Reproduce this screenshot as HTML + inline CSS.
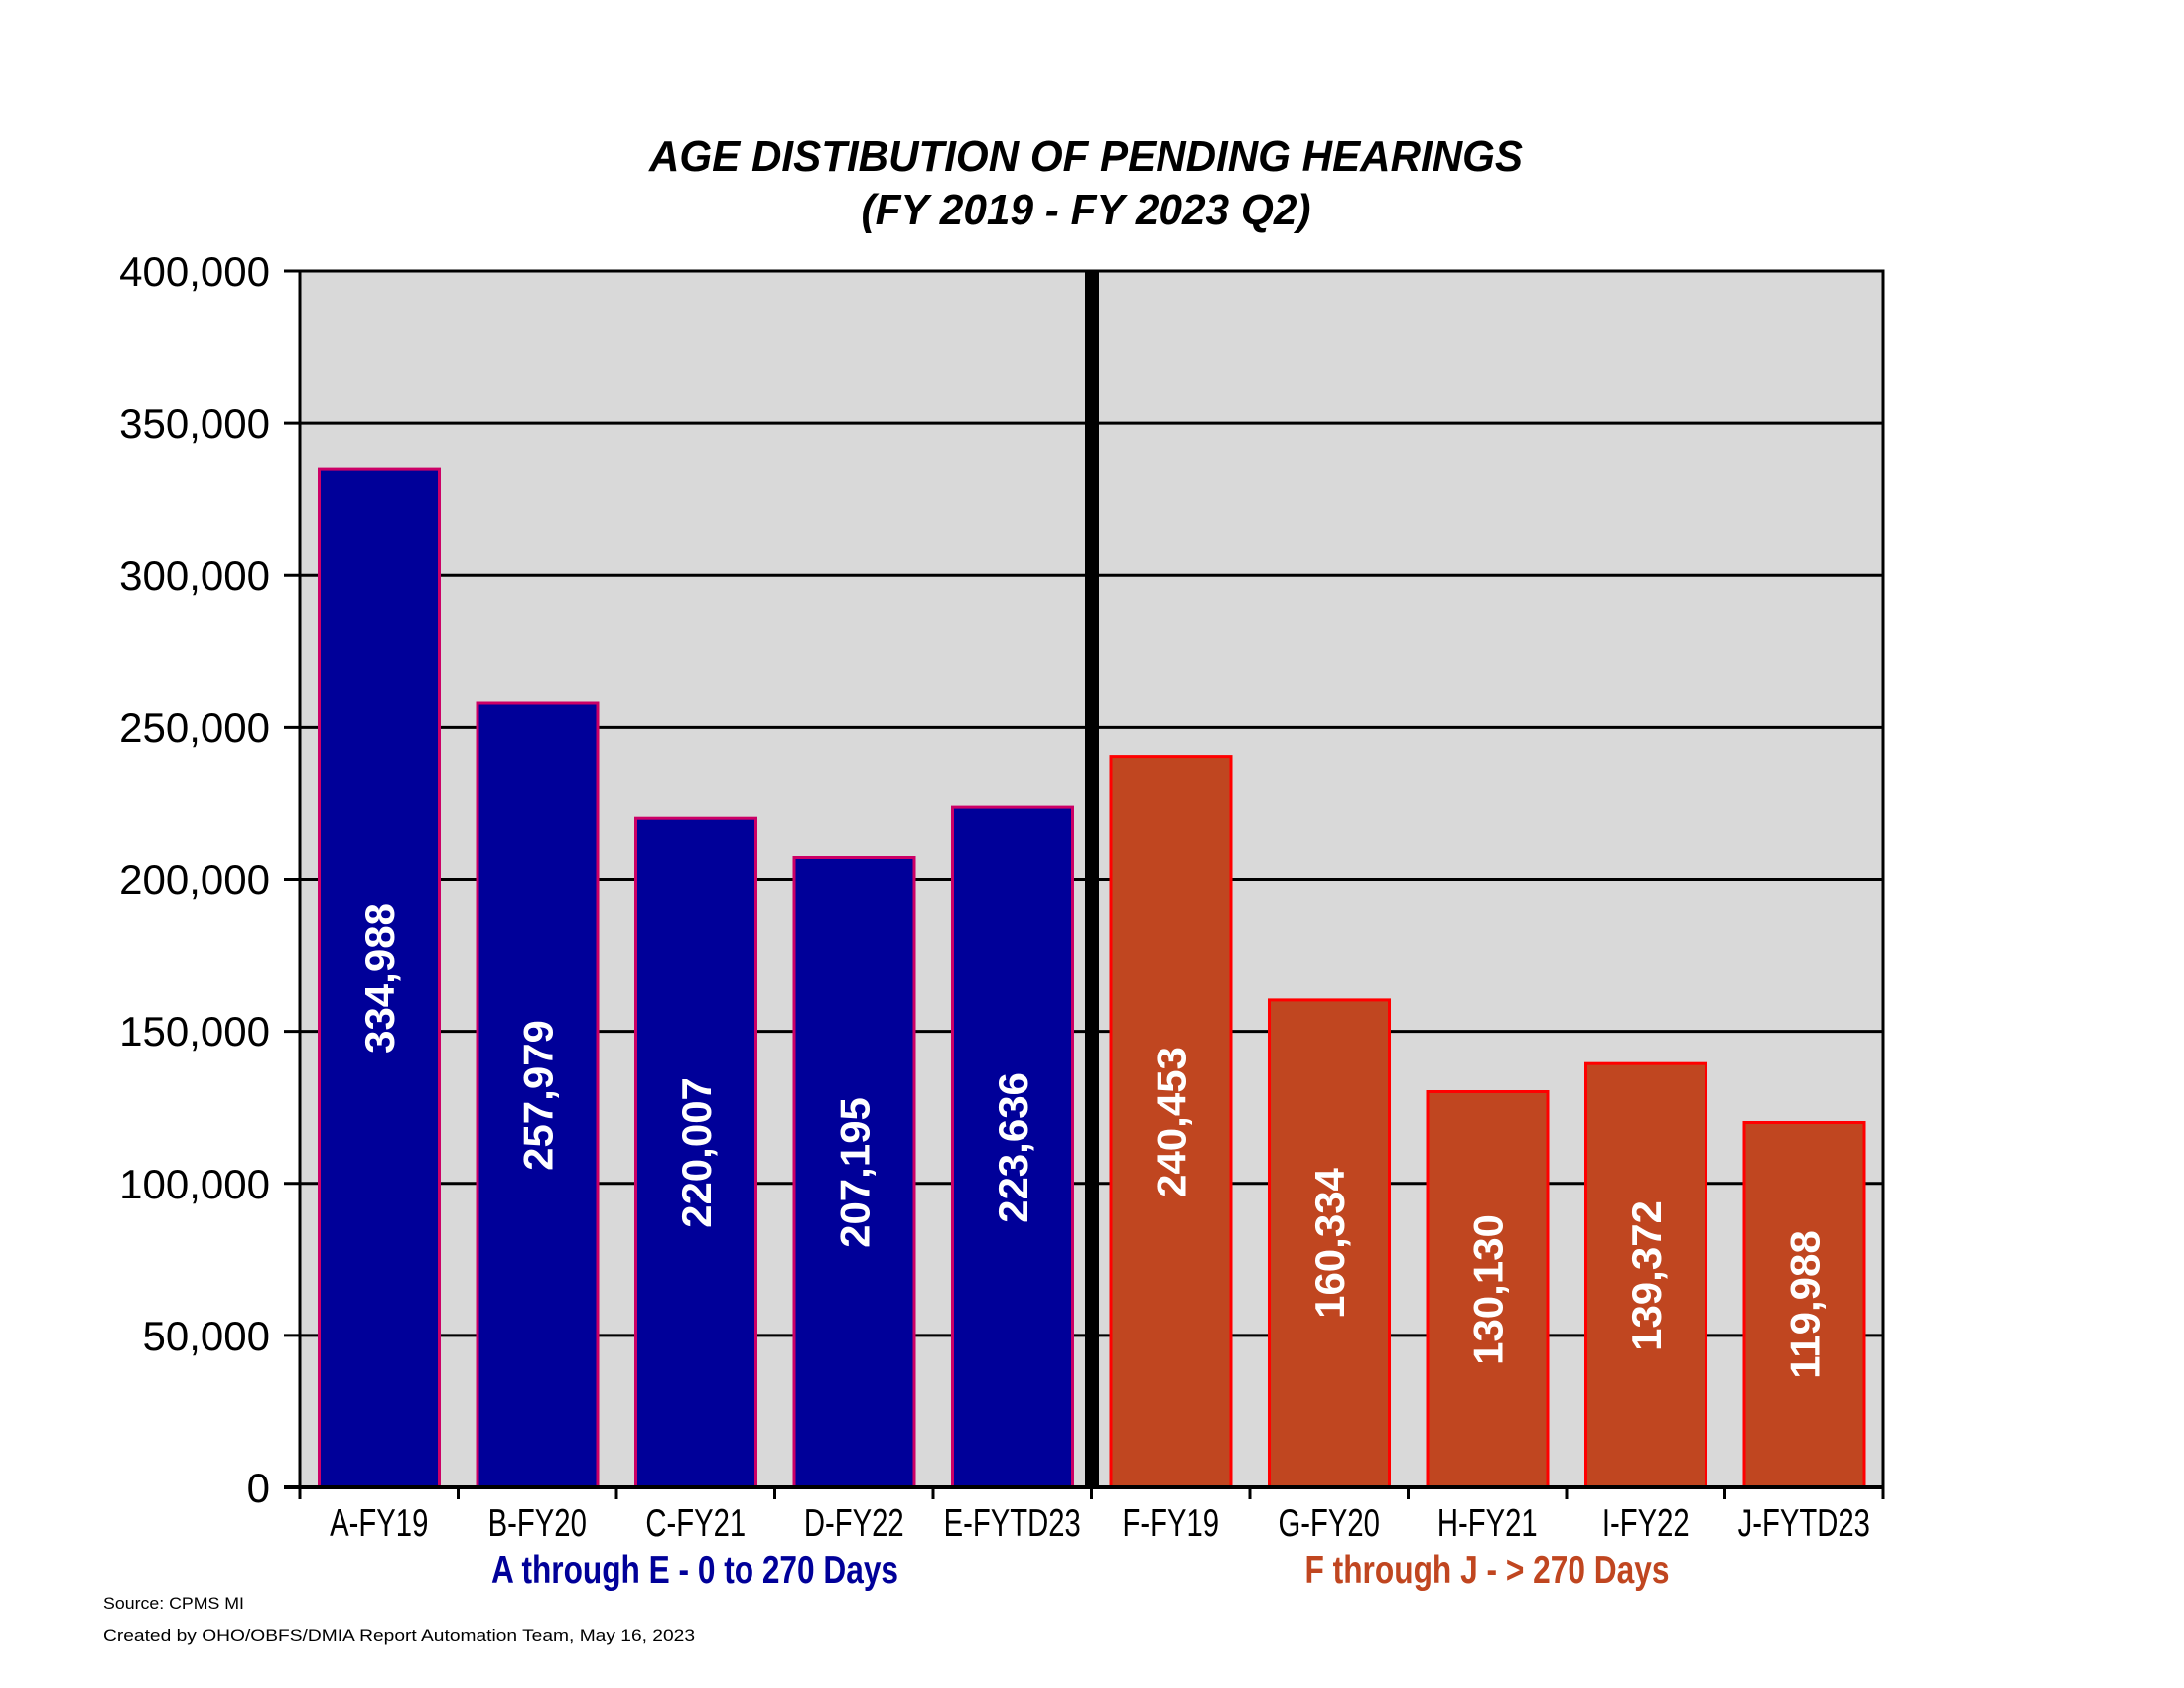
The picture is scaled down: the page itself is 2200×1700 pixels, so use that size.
<!DOCTYPE html>
<html><head><meta charset="utf-8"><style>
html,body{margin:0;padding:0;background:#fff;}
svg{display:block;}
text{font-family:"Liberation Sans",Arial,sans-serif;}
</style></head><body>
<svg width="2200" height="1700" viewBox="0 0 2200 1700" xmlns="http://www.w3.org/2000/svg">
<rect x="0" y="0" width="2200" height="1700" fill="#fff"/>
<!-- title -->
<text x="1094" y="172" font-size="44" font-weight="bold" font-style="italic" text-anchor="middle" textLength="880" lengthAdjust="spacingAndGlyphs">AGE DISTIBUTION OF PENDING HEARINGS</text>
<text x="1094" y="226" font-size="44" font-weight="bold" font-style="italic" text-anchor="middle" textLength="453" lengthAdjust="spacingAndGlyphs">(FY 2019 - FY 2023 Q2)</text>
<!-- plot area -->
<rect x="302" y="273" width="1595" height="1225" fill="#d9d9d9"/>
<g stroke="#000" stroke-width="3">
<line x1="286" y1="273" x2="1897" y2="273"/>
<line x1="286" y1="426.1" x2="1897" y2="426.1"/>
<line x1="286" y1="579.3" x2="1897" y2="579.3"/>
<line x1="286" y1="732.4" x2="1897" y2="732.4"/>
<line x1="286" y1="885.5" x2="1897" y2="885.5"/>
<line x1="286" y1="1038.6" x2="1897" y2="1038.6"/>
<line x1="286" y1="1191.8" x2="1897" y2="1191.8"/>
<line x1="286" y1="1344.9" x2="1897" y2="1344.9"/>
</g>
<!-- bars -->
<g stroke-width="3">
<rect x="321.5" y="472.1" width="121" height="1025.9" fill="#000099" stroke="#cc0066"/>
<rect x="481" y="708" width="121" height="790" fill="#000099" stroke="#cc0066"/>
<rect x="640.5" y="824.2" width="121" height="673.8" fill="#000099" stroke="#cc0066"/>
<rect x="800" y="863.5" width="121" height="634.5" fill="#000099" stroke="#cc0066"/>
<rect x="959.5" y="813.1" width="121" height="684.9" fill="#000099" stroke="#cc0066"/>
<rect x="1119" y="761.6" width="121" height="736.4" fill="#c04620" stroke="#ff0000"/>
<rect x="1278.5" y="1006.9" width="121" height="491.1" fill="#c04620" stroke="#ff0000"/>
<rect x="1438" y="1099.5" width="121" height="398.5" fill="#c04620" stroke="#ff0000"/>
<rect x="1597.5" y="1071.2" width="121" height="426.8" fill="#c04620" stroke="#ff0000"/>
<rect x="1757" y="1130.5" width="121" height="367.5" fill="#c04620" stroke="#ff0000"/>
</g>
<!-- bar labels -->
<g fill="#fff" font-size="42" font-weight="bold" text-anchor="middle">
<text transform="translate(397,985) rotate(-90)">334,988</text>
<text transform="translate(556.5,1103) rotate(-90)">257,979</text>
<text transform="translate(716,1161) rotate(-90)">220,007</text>
<text transform="translate(875.5,1181) rotate(-90)">207,195</text>
<text transform="translate(1035,1156) rotate(-90)">223,636</text>
<text transform="translate(1194.5,1130) rotate(-90)">240,453</text>
<text transform="translate(1354,1252) rotate(-90)">160,334</text>
<text transform="translate(1513.5,1299) rotate(-90)">130,130</text>
<text transform="translate(1673,1285) rotate(-90)">139,372</text>
<text transform="translate(1832.5,1314) rotate(-90)">119,988</text>
</g>
<!-- divider -->
<rect x="1093" y="273" width="14" height="1225" fill="#000"/>
<!-- axes frame -->
<rect x="302" y="273" width="1595" height="1225" fill="none" stroke="#000" stroke-width="3"/>
<line x1="286" y1="1498" x2="1897" y2="1498" stroke="#000" stroke-width="4"/>
<g stroke="#000" stroke-width="3">
<line x1="302" y1="1498" x2="302" y2="1510"/>
<line x1="461.5" y1="1498" x2="461.5" y2="1510"/>
<line x1="621" y1="1498" x2="621" y2="1510"/>
<line x1="780.5" y1="1498" x2="780.5" y2="1510"/>
<line x1="940" y1="1498" x2="940" y2="1510"/>
<line x1="1099.5" y1="1498" x2="1099.5" y2="1510"/>
<line x1="1259" y1="1498" x2="1259" y2="1510"/>
<line x1="1418.5" y1="1498" x2="1418.5" y2="1510"/>
<line x1="1578" y1="1498" x2="1578" y2="1510"/>
<line x1="1737.5" y1="1498" x2="1737.5" y2="1510"/>
<line x1="1897" y1="1498" x2="1897" y2="1510"/>
</g>
<!-- y labels -->
<g font-size="42" text-anchor="end">
<text x="272" y="288">400,000</text>
<text x="272" y="441">350,000</text>
<text x="272" y="594">300,000</text>
<text x="272" y="747">250,000</text>
<text x="272" y="900">200,000</text>
<text x="272" y="1053">150,000</text>
<text x="272" y="1207">100,000</text>
<text x="272" y="1360">50,000</text>
<text x="272" y="1513">0</text>
</g>
<!-- x labels -->
<g font-size="39" text-anchor="middle">
<g transform="translate(381.75,1547) scale(0.75,1)"><text x="0" y="0">A-FY19</text></g>
<g transform="translate(541.25,1547) scale(0.75,1)"><text x="0" y="0">B-FY20</text></g>
<g transform="translate(700.75,1547) scale(0.75,1)"><text x="0" y="0">C-FY21</text></g>
<g transform="translate(860.25,1547) scale(0.75,1)"><text x="0" y="0">D-FY22</text></g>
<g transform="translate(1019.75,1547) scale(0.75,1)"><text x="0" y="0">E-FYTD23</text></g>
<g transform="translate(1179.25,1547) scale(0.75,1)"><text x="0" y="0">F-FY19</text></g>
<g transform="translate(1338.75,1547) scale(0.75,1)"><text x="0" y="0">G-FY20</text></g>
<g transform="translate(1498.25,1547) scale(0.75,1)"><text x="0" y="0">H-FY21</text></g>
<g transform="translate(1657.75,1547) scale(0.75,1)"><text x="0" y="0">I-FY22</text></g>
<g transform="translate(1817.25,1547) scale(0.75,1)"><text x="0" y="0">J-FYTD23</text></g>
</g>
<!-- group titles -->
<text x="700" y="1594" font-size="39" font-weight="bold" fill="#000099" text-anchor="middle" textLength="410" lengthAdjust="spacingAndGlyphs">A through E - 0 to 270 Days</text>
<text x="1498" y="1594" font-size="39" font-weight="bold" fill="#c04620" text-anchor="middle" textLength="367" lengthAdjust="spacingAndGlyphs">F through J - &gt; 270 Days</text>
<!-- footer -->
<text x="104" y="1620" font-size="17" textLength="142" lengthAdjust="spacingAndGlyphs">Source: CPMS MI</text>
<text x="104" y="1653" font-size="17" textLength="596" lengthAdjust="spacingAndGlyphs">Created by OHO/OBFS/DMIA Report Automation Team, May 16, 2023</text>
</svg>
</body></html>
